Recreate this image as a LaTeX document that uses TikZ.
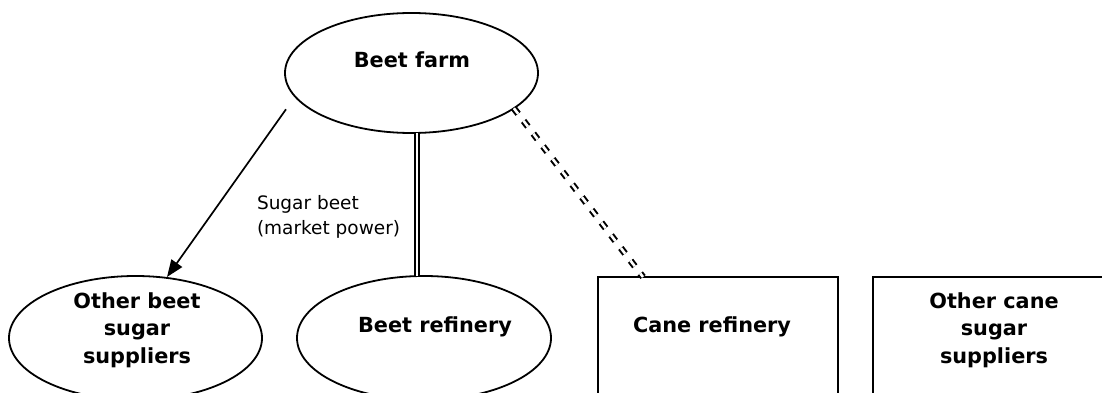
\documentclass[tikz,border=0pt]{standalone}
\usepackage{fontspec}
\setmainfont{DejaVu Sans}
\usetikzlibrary{arrows.meta,shapes.geometric}
\begin{document}
\begin{tikzpicture}[x=1pt,y=-1pt,
  every node/.style={inner sep=0pt, outer sep=0pt},
  oval/.style={draw, line width=1.8pt, ellipse},
  boxnode/.style={draw, line width=1.8pt, rectangle, anchor=north west, minimum width=240pt, minimum height=160pt},
  bigtxt/.style={font=\fontsize{20.8}{27.7}\selectfont\bfseries, align=center},
  smalltxt/.style={font=\fontsize{18.5}{25}\selectfont, align=left},
  dbl/.style={draw, line width=2pt, double, double distance=2.6pt},
  dbldash/.style={dbl, dash pattern=on 7pt off 9pt},
  arr/.style={line width=1.7pt, -{Triangle[length=17pt,width=13pt]}}
]
\useasboundingbox (0,0) rectangle (1102,393);
\clip (0,0) rectangle (1102,393);
\fill[white] (0,0) rectangle (1102,393);

% shapes
\node[oval, minimum width=253pt, minimum height=120pt] (farm) at (411.5,73) {};
\node[oval, minimum width=253pt, minimum height=124pt] (obeet) at (135.5,338) {};
\node[oval, minimum width=254pt, minimum height=124pt] (beetref) at (424,338) {};
\node[boxnode] (caneref) at (598,277) {};
\node[boxnode, minimum width=242pt] (ocane) at (873,277) {};

% texts
\node[bigtxt, anchor=base] (farmtxt) at (412,67.7) {Beet farm};
\node[bigtxt, anchor=north] (obeettxt) at (137,292.2) {Other beet\\sugar\\suppliers};
\node[bigtxt, anchor=base] (beetreftxt) at (435,332.5) {Beet refinery};
\node[bigtxt, anchor=base] (canereftxt) at (712,332.5) {Cane refinery};
\node[bigtxt, anchor=north] (ocanetxt) at (994,292.2) {Other cane\\sugar\\suppliers};
\node[smalltxt, anchor=north west] (sugarlbl) at (257,195.2) {Sugar beet\\(market power)};

% connectors
\coordinate (arrstart) at (286,109.3);
\coordinate (arrend) at (167,277);
\draw[arr] (arrstart) -- (arrend);
\draw[dbl] ([xshift=5.5pt]farm.south) -- ([xshift=-7pt]beetref.north);
\draw[dbldash] (farm.-19.4) -- ([xshift=45pt]caneref.north west);
\end{tikzpicture}
\end{document}
